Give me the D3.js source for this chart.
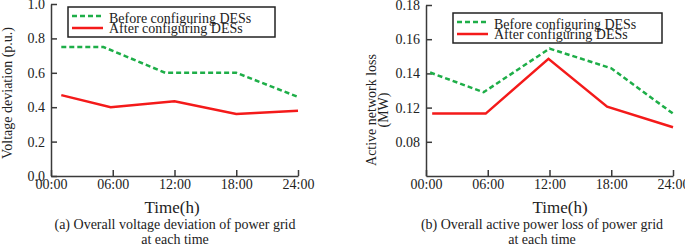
<!DOCTYPE html>
<html>
<head>
<meta charset="utf-8">
<script src="https://cdn.jsdelivr.net/npm/d3@7"></script>
<style>
  body { margin: 0; background: #fff; }
  svg { display: block; font-family: "Liberation Serif", "Times New Roman", serif; }
</style>
</head>
<body>
<div id="chart"></div>
<script>
// data (x in hours)
const xTickVals = [0, 6, 12, 18, 24];
const xTickLabels = ["00:00", "06:00", "12:00", "18:00", "24:00"];
const seriesNames = ["Before configuring DESs", "After configuring DESs"];

// (a) voltage deviation
const hoursA_before = [1, 5.1, 11.1, 18, 24];
const valsA_before = [0.75, 0.75, 0.60, 0.60, 0.46];
const hoursA_after = [1, 5.8, 12, 18, 24];
const valsA_after = [0.47, 0.40, 0.435, 0.36, 0.38];
const yTickValsA = [0, 0.2, 0.4, 0.6, 0.8, 1.0];
const yTickLabelsA = ["0.0", "0.2", "0.4", "0.6", "0.8", "1.0"];

// (b) active network loss
const hoursB_before = [0.4, 5.6, 12, 18, 24];
const valsB_before = [0.1405, 0.129, 0.1545, 0.143, 0.1165];
const hoursB_after = [0.6, 5.8, 11.9, 17.6, 24];
const valsB_after = [0.1165, 0.1165, 0.1485, 0.1205, 0.1085];
const yTickValsB = [0.10, 0.12, 0.14, 0.16, 0.18];
const yTickLabelsB = ["0.08", "0.12", "0.14", "0.16", "0.18"];

const W = 685, H = 246;
const svg = d3.select("#chart").append("svg")
  .attr("width", W).attr("height", H);

const axisColor = "#3a3a3a", textColor = "#222";
const greenCol = "#1eae48", redCol = "#f41a1a";
const fs = 14;

function drawPanel(p) {
  const x = d3.scaleLinear().domain([0, 24]).range([p.left, p.right]);
  const y = d3.scaleLinear().domain(p.yDomain).range([p.bottom, p.top]);
  const g = svg.append("g");

  // x axis, ticks pointing inward
  const xAxis = g.append("g")
    .attr("transform", `translate(0,${p.bottom})`)
    .call(d3.axisBottom(x).tickValues(xTickVals)
      .tickFormat((d, i) => xTickLabels[i])
      .tickSizeInner(-6).tickSizeOuter(0).tickPadding(3));
  xAxis.selectAll("text").attr("font-size", fs).attr("fill", textColor)
    .attr("font-family", "Liberation Serif");

  // y axis
  const yAxis = g.append("g")
    .attr("transform", `translate(${p.left},0)`)
    .call(d3.axisLeft(y).tickValues(p.yTicks)
      .tickFormat((d, i) => p.yLabels[i])
      .tickSizeInner(-6).tickSizeOuter(0).tickPadding(p.yPad));
  yAxis.selectAll("text").attr("font-size", fs).attr("fill", textColor)
    .attr("font-family", "Liberation Serif");

  g.selectAll(".domain, .tick line").attr("stroke", axisColor).attr("stroke-width", 1.5);

  const line = d3.line().x(d => x(d[0])).y(d => y(d[1]));
  g.append("path").datum(d3.zip(p.hoursBefore, p.valsBefore))
    .attr("d", line).attr("fill", "none").attr("stroke", greenCol)
    .attr("stroke-width", 2.5).attr("stroke-dasharray", "5,3");
  g.append("path").datum(d3.zip(p.hoursAfter, p.valsAfter))
    .attr("d", line).attr("fill", "none").attr("stroke", redCol)
    .attr("stroke-width", 2.5);

  // legend
  const lg = g.append("g").attr("transform", `translate(${p.legend[0]},${p.legend[1]})`);
  lg.append("rect").attr("width", p.legend[2]).attr("height", 30)
    .attr("fill", "#fff").attr("stroke", "#222").attr("stroke-width", 1.5);
  [[greenCol, "5,3"], [redCol, null]].forEach((s, i) => {
    lg.append("line").attr("x1", 4).attr("x2", 35)
      .attr("y1", 9 + i * 12).attr("y2", 9 + i * 12)
      .attr("stroke", s[0]).attr("stroke-width", 2.5)
      .attr("stroke-dasharray", s[1]);
    lg.append("text").attr("x", 41).attr("y", 16 + i * 10)
      .attr("font-size", fs).attr("fill", textColor).text(seriesNames[i]);
  });

  // x title and caption
  g.append("text").attr("x", p.titleX).attr("y", 213).attr("text-anchor", "middle")
    .attr("font-size", 17).attr("fill", textColor).text("Time(h)");
  p.caption.forEach((t, i) => {
    g.append("text").attr("x", p.capX).attr("y", 229 + i * 15).attr("text-anchor", "middle")
      .attr("font-size", fs).attr("fill", textColor).text(t);
  });

  // y title
  p.yTitle.forEach((t, i) => {
    g.append("text")
      .attr("transform", `translate(${p.yTitleX + i * 12},${p.yTitleY}) rotate(-90)`)
      .attr("text-anchor", "middle").attr("font-size", fs).attr("fill", textColor)
      .text(t);
  });
}

drawPanel({
  left: 51, right: 298, top: 4, bottom: 176, yDomain: [0, 1.0],
  yTicks: yTickValsA, yLabels: yTickLabelsA, yPad: 6,
  hoursBefore: hoursA_before, valsBefore: valsA_before,
  hoursAfter: hoursA_after, valsAfter: valsA_after,
  legend: [68, 7, 207], titleX: 172, capX: 175,
  caption: ["(a) Overall voltage deviation of power grid", "at each time"],
  yTitle: ["Voltage deviation (p.u.)"], yTitleX: 12, yTitleY: 93
});

drawPanel({
  left: 426, right: 673, top: 5, bottom: 176, yDomain: [0.08, 0.18],
  yTicks: yTickValsB, yLabels: yTickLabelsB, yPad: 6,
  hoursBefore: hoursB_before, valsBefore: valsB_before,
  hoursAfter: hoursB_after, valsAfter: valsB_after,
  legend: [453, 13, 209], titleX: 560, capX: 542,
  caption: ["(b) Overall active power loss of power grid", "at each time"],
  yTitle: ["Active network loss", "(MW)"], yTitleX: 376, yTitleY: 110
});
</script>
</body>
</html>
